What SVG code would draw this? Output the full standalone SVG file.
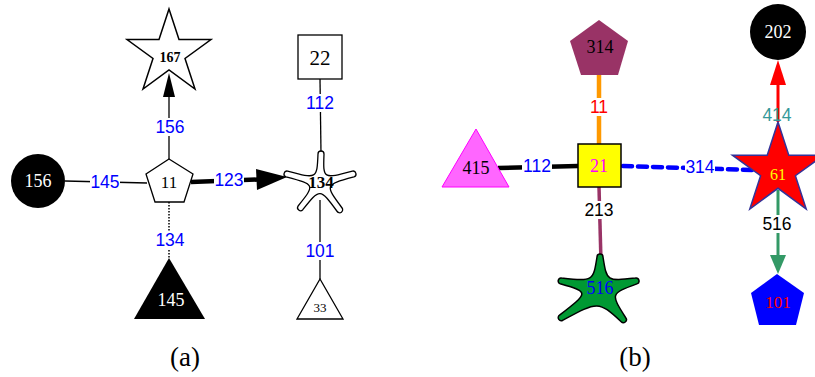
<svg xmlns="http://www.w3.org/2000/svg" width="815" height="377" viewBox="0 0 815 377">
<style>
.lbl{font-family:"Liberation Sans",Arial,sans-serif;font-size:17.5px;text-anchor:middle;dominant-baseline:central}
.nl{font-family:"Liberation Serif","Times New Roman",serif;text-anchor:middle;dominant-baseline:central}
.bg{fill:#fff}
</style>
<rect width="815" height="377" fill="#fff"/>
<g id="connectors">
  <!-- panel a -->
  <line x1="65" y1="181" x2="147" y2="183" stroke="#000" stroke-width="1.3"/>
  <line x1="169" y1="159" x2="169" y2="96" stroke="#000" stroke-width="1.3"/>
  <polygon points="169,73 163,97 175,97" fill="#000"/>
  <line x1="191" y1="182" x2="258" y2="179.5" stroke="#000" stroke-width="4.5"/>
  <polygon points="287,177 256,169 257,190" fill="#000"/>
  <line x1="169" y1="202" x2="169" y2="258" stroke="#000" stroke-width="1.5" stroke-dasharray="1.5 1.5"/>
  <line x1="320" y1="79" x2="321" y2="153" stroke="#000" stroke-width="1.3"/>
  <line x1="320" y1="200" x2="320" y2="279" stroke="#000" stroke-width="1.3"/>
  <!-- panel b -->
  <line x1="599" y1="75" x2="599" y2="145" stroke="#ff9900" stroke-width="4.5"/>
  <line x1="498" y1="168" x2="578" y2="166" stroke="#000" stroke-width="4.5"/>
  <line x1="623" y1="166" x2="752" y2="170" stroke="#0000ff" stroke-width="4.5" stroke-dasharray="9 6" stroke-linecap="round"/>
  <line x1="599" y1="187" x2="601" y2="262" stroke="#993366" stroke-width="3.5"/>
  <line x1="778" y1="122" x2="778" y2="84" stroke="#ff0000" stroke-width="3"/>
  <polygon points="778,60 770,85 786,85" fill="#ff0000"/>
  <line x1="778" y1="190" x2="778" y2="256" stroke="#339966" stroke-width="3"/>
  <polygon points="778,274 770,255 786,255" fill="#339966"/>
  <!-- labels backgrounds and labels -->
  <rect class="bg" x="90" y="173" width="30" height="18"/>
  <text class="lbl" x="105" y="182" fill="#0000ff">145</text>
  <rect class="bg" x="155" y="118" width="30" height="18"/>
  <text class="lbl" x="170" y="127" fill="#0000ff">156</text>
  <rect class="bg" x="214" y="171" width="30" height="18"/>
  <text class="lbl" x="229" y="180" fill="#0000ff">123</text>
  <rect class="bg" x="155" y="231" width="30" height="18"/>
  <text class="lbl" x="170" y="240" fill="#0000ff">134</text>
  <rect class="bg" x="305" y="94" width="30" height="18"/>
  <text class="lbl" x="320" y="103" fill="#0000ff">112</text>
  <rect class="bg" x="305" y="242" width="30" height="18"/>
  <text class="lbl" x="320" y="251" fill="#0000ff">101</text>
  <rect class="bg" x="589" y="98" width="20" height="18"/>
  <text class="lbl" x="599" y="107" fill="#ff0000">11</text>
  <rect class="bg" x="522" y="157" width="30" height="18"/>
  <text class="lbl" x="537" y="166" fill="#0000ff">112</text>
  <rect class="bg" x="685" y="158" width="30" height="18"/>
  <text class="lbl" x="700" y="167" fill="#0000ff">314</text>
  <rect class="bg" x="584" y="201" width="30" height="18"/>
  <text class="lbl" x="599" y="210" fill="#000">213</text>
  <rect class="bg" x="762" y="215" width="30" height="18"/>
  <text class="lbl" x="777" y="224" fill="#000">516</text>
</g>
<g id="n167">
  <polygon points="169,9 179,39.5 211,39.5 185,58.5 195,89 169,70 143,89 153,58.5 127,39.5 159,39.5" fill="#fff" stroke="#000" stroke-width="1.5"/>
  <text class="nl" x="170" y="57" font-size="14" font-weight="bold">167</text>
</g>
<g id="n11">
  <polygon points="169,159 193,174 184,202 155,202 146,174" fill="#fff" stroke="#000" stroke-width="1.3"/>
  <text class="nl" x="169" y="182" font-size="17">11</text>
</g>
<g id="n156">
  <circle cx="38" cy="181" r="27" fill="#000"/>
  <text class="nl" x="38" y="181" font-size="18" fill="#fff">156</text>
</g>
<g id="n145">
  <polygon points="169,258 205,319 134,319" fill="#000"/>
  <text class="nl" x="171" y="300" font-size="18" fill="#fff">145</text>
</g>
<g id="n22">
  <rect x="298" y="35" width="44" height="44" fill="#fff" stroke="#000" stroke-width="1.3"/>
  <text class="nl" x="320" y="58" font-size="21">22</text>
</g>
<g id="n134">
  <path d="M318,154 A3,3 0 0 1 324,154 C323,179 323,179 352.4,171.1 A3,3 0 0 1 353.9,176.9 C324.7,184.7 324.7,184.7 342.1,208 A3,3 0 0 1 337.2,211.5 C320,188 320,188 302.8,209.7 A3,3 0 0 1 298.1,206 C315.3,184.6 315.3,184.6 286.1,176.9 A3,3 0 0 1 287.6,171.1 C317,179 317,179 318,154 Z" fill="#fff" stroke="#000" stroke-width="1.3"/>
  <text class="nl" x="321" y="182" font-size="17" font-weight="bold">134</text>
</g>
<g id="n33">
  <polygon points="320,279 343,319 297,319" fill="#fff" stroke="#000" stroke-width="1.3"/>
  <text class="nl" x="320" y="307" font-size="13">33</text>
</g>
<text class="nl" x="185" y="357" font-size="27">(a)</text>
<g id="n314">
  <polygon points="599,20 628,41 618,75 581,75 570,41" fill="#993366"/>
  <text class="nl" x="600" y="47" font-size="18">314</text>
</g>
<g id="n21">
  <rect x="578" y="144" width="43" height="43" fill="#ffff00" stroke="#000" stroke-width="1.5"/>
  <text class="nl" x="599" y="166" font-size="18" fill="#ff00ff">21</text>
</g>
<g id="n415">
  <polygon points="476,129 509,187 442,187" fill="#ff66ff" stroke="#ff00ff" stroke-width="1"/>
  <text class="nl" x="476" y="168" font-size="18">415</text>
</g>
<g id="n516">
  <path d="M597,257 A3,3 0 0 1 603,257 C606.8,281.3 606.8,281.3 635.4,278.1 A3,3 0 0 1 636.9,283.9 C610.4,293.6 610.4,293.6 625.9,318 A3,3 0 0 1 621.2,321.7 C598.4,300.9 598.4,300.9 563,320.1 A3,3 0 0 1 559.5,315.2 C589.2,292.1 589.2,292.1 560.2,283.8 A3,3 0 0 1 561.6,278 C593.2,281.4 593.2,281.4 597,257 Z" fill="#009933" stroke="#000" stroke-width="1.5"/>
  <text class="nl" x="600" y="288" font-size="18" fill="#0000ff">516</text>
</g>
<g id="n61">
  <polygon points="778,122 788.8,155.2 823.6,155.2 795.4,175.7 806.2,209 778,188.3 749.8,209 760.6,175.7 732.4,155.2 767.2,155.2" fill="#ff0000" stroke="#333399" stroke-width="1.5"/>
  <text class="nl" x="778" y="174" font-size="16" fill="#ffff00">61</text>
</g>
<g id="n202">
  <circle cx="778" cy="32" r="28" fill="#000"/>
  <text class="nl" x="778" y="32" font-size="18" fill="#fff">202</text>
</g>
<g id="n101">
  <polygon points="777,274 804,293 796,325 759,325 751,293" fill="#0000ff"/>
  <text class="nl" x="778" y="302" font-size="17" fill="#ff0000">101</text>
</g>
<text class="lbl" x="777" y="115" fill="#339999">414</text>
<text class="nl" x="635" y="357" font-size="27">(b)</text>
</svg>
